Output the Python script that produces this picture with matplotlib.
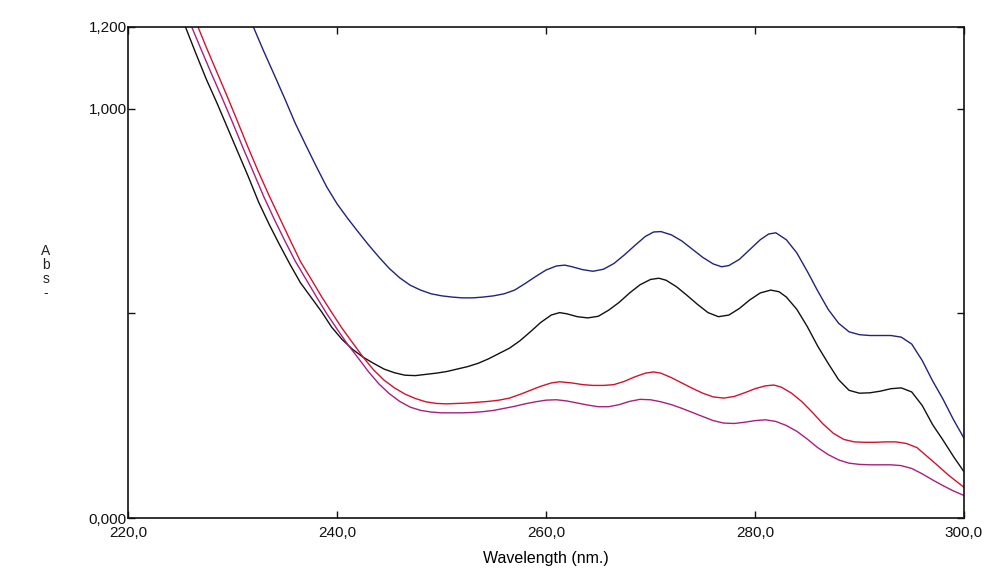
import numpy as np
import matplotlib
matplotlib.use("Agg")
from matplotlib import pyplot as plt

# spectra (wavelength nm, absorbance)
wl_blue = [232.0, 233.0, 234.0, 235.0, 236.0, 237.0, 238.0, 239.0, 240.0, 241.0, 242.0,
           243.0, 244.0, 245.0, 246.0, 247.0, 248.0, 249.0, 250.0, 251.0, 252.0, 253.0,
           254.0, 255.0, 256.0, 257.0, 258.0, 259.0, 260.0, 261.0, 261.8, 262.5, 263.5,
           264.5, 265.5, 266.5, 267.5, 268.5, 269.5, 270.3, 271.0, 272.0, 273.0, 274.0,
           275.0, 276.0, 276.8, 277.5, 278.5, 279.5, 280.5, 281.3, 282.0, 283.0, 284.0,
           285.0, 286.0, 287.0, 288.0, 289.0, 290.0, 291.0, 292.0, 293.0, 294.0, 295.0,
           296.0, 297.0, 298.0, 299.0, 300.0]
abs_blue = [1.200, 1.140, 1.083, 1.025, 0.965, 0.912, 0.860, 0.810, 0.768, 0.733, 0.700,
            0.668, 0.638, 0.610, 0.587, 0.569, 0.557, 0.548, 0.543, 0.540, 0.538, 0.538,
            0.540, 0.543, 0.548, 0.557, 0.573, 0.590, 0.606, 0.616, 0.618, 0.614, 0.607,
            0.603, 0.608, 0.622, 0.643, 0.666, 0.688, 0.699, 0.700, 0.692, 0.677, 0.657,
            0.637, 0.621, 0.614, 0.617, 0.632, 0.656, 0.680, 0.694, 0.697, 0.680, 0.648,
            0.603, 0.555, 0.510, 0.476, 0.455, 0.448, 0.446, 0.446, 0.446, 0.442, 0.425,
            0.385, 0.335, 0.290, 0.240, 0.195]

wl_black = [225.5, 226.5, 227.5, 228.5, 229.5, 230.5, 231.5, 232.5, 233.5, 234.5, 235.5,
            236.5, 237.5, 238.5, 239.5, 240.5, 241.5, 242.5, 243.5, 244.5, 245.5, 246.5,
            247.5, 248.5, 249.5, 250.5, 251.5, 252.5, 253.5, 254.5, 255.5, 256.5, 257.5,
            258.5, 259.5, 260.5, 261.3, 262.0, 263.0, 264.0, 265.0, 266.0, 267.0, 268.0,
            269.0, 270.0, 270.8, 271.5, 272.5, 273.5, 274.5, 275.5, 276.5, 277.5, 278.5,
            279.5, 280.5, 281.5, 282.3, 283.0, 284.0, 285.0, 286.0, 287.0, 288.0, 289.0,
            290.0, 291.0, 292.0, 293.0, 294.0, 295.0, 296.0, 297.0, 298.0, 299.0, 300.0]
abs_black = [1.200, 1.135, 1.072, 1.015, 0.955, 0.895, 0.835, 0.772, 0.718, 0.668, 0.620,
             0.575, 0.540, 0.505, 0.466, 0.436, 0.412, 0.393, 0.378, 0.364, 0.355, 0.349,
             0.348, 0.351, 0.354, 0.358, 0.364, 0.370, 0.378, 0.389, 0.402, 0.415, 0.433,
             0.455, 0.478, 0.496, 0.502, 0.499, 0.492, 0.489, 0.493, 0.508, 0.527, 0.550,
             0.570, 0.583, 0.586, 0.581, 0.565, 0.544, 0.522, 0.502, 0.492, 0.496, 0.512,
             0.533, 0.550, 0.557, 0.553, 0.540, 0.510, 0.468, 0.420, 0.378, 0.338, 0.312,
             0.305, 0.306, 0.310, 0.316, 0.318, 0.308, 0.275, 0.228, 0.190, 0.150, 0.113]

wl_red = [226.7, 227.5, 228.5, 229.5, 230.5, 231.5, 232.5, 233.5, 234.5, 235.5, 236.5,
          237.5, 238.5, 239.5, 240.5, 241.5, 242.5, 243.5, 244.5, 245.5, 246.5, 247.5,
          248.5, 249.5, 250.5, 251.5, 252.5, 253.5, 254.5, 255.5, 256.5, 257.5, 258.5,
          259.5, 260.5, 261.3, 262.5, 263.5, 264.5, 265.5, 266.5, 267.5, 268.5, 269.5,
          270.3, 271.0, 272.0, 273.0, 274.0, 275.0, 276.0, 277.0, 278.0, 279.0, 280.0,
          281.0, 281.8, 282.5, 283.5, 284.5, 285.5, 286.5, 287.5, 288.5, 289.5, 290.5,
          291.5, 292.5, 293.5, 294.5, 295.5, 296.5, 297.5, 298.5, 299.5, 300.0]
abs_red = [1.200, 1.150, 1.090, 1.030, 0.968, 0.905, 0.845, 0.788, 0.734, 0.680, 0.627,
           0.585, 0.542, 0.502, 0.463, 0.428, 0.393, 0.362, 0.337, 0.318, 0.303, 0.292,
           0.284, 0.280, 0.279, 0.280, 0.281, 0.283, 0.285, 0.288, 0.293, 0.302, 0.312,
           0.322, 0.330, 0.333, 0.330, 0.326, 0.324, 0.324, 0.326, 0.334, 0.345, 0.354,
           0.357, 0.354, 0.343, 0.330, 0.317, 0.305, 0.296, 0.293, 0.297, 0.306, 0.316,
           0.323, 0.325, 0.320, 0.305, 0.284, 0.258, 0.230, 0.207, 0.192, 0.186, 0.185,
           0.185, 0.186, 0.186, 0.182, 0.172, 0.150, 0.128, 0.105, 0.085, 0.075]

wl_mag = [226.1, 227.0, 228.0, 229.0, 230.0, 231.0, 232.0, 233.0, 234.0, 235.0, 236.0,
          237.0, 238.0, 239.0, 240.0, 241.0, 242.0, 243.0, 244.0, 245.0, 246.0, 247.0,
          248.0, 249.0, 250.0, 251.0, 252.0, 253.0, 254.0, 255.0, 256.0, 257.0, 258.0,
          259.0, 260.0, 261.0, 262.0, 263.0, 264.0, 265.0, 266.0, 267.0, 268.0, 269.0,
          270.0, 271.0, 272.0, 273.0, 274.0, 275.0, 276.0, 277.0, 278.0, 279.0, 280.0,
          281.0, 282.0, 283.0, 284.0, 285.0, 286.0, 287.0, 288.0, 289.0, 290.0, 291.0,
          292.0, 293.0, 294.0, 295.0, 296.0, 297.0, 298.0, 299.0, 300.0]
abs_mag = [1.200, 1.145, 1.085, 1.027, 0.967, 0.905, 0.845, 0.785, 0.730, 0.678, 0.628,
           0.585, 0.542, 0.500, 0.462, 0.425, 0.392, 0.358, 0.328, 0.304, 0.285, 0.271,
           0.263, 0.259, 0.257, 0.257, 0.257, 0.258, 0.260, 0.263, 0.268, 0.273, 0.279,
           0.284, 0.288, 0.289, 0.286, 0.281, 0.276, 0.272, 0.272, 0.277, 0.285, 0.290,
           0.289, 0.284, 0.277, 0.268, 0.258, 0.248, 0.238, 0.232, 0.231, 0.234, 0.238,
           0.240, 0.236, 0.226, 0.212, 0.193, 0.172, 0.155, 0.142, 0.134, 0.131, 0.130,
           0.130, 0.130, 0.128, 0.121, 0.108, 0.093, 0.079, 0.066, 0.055]

xticks = [220, 240, 260, 280, 300]
xlabels = ["220,0", "240,0", "260,0", "280,0", "300,0"]
yticks = [0.0, 0.5, 1.0, 1.2]
ylabels = ["0,000", "", "1,000", "1,200"]

plt.rcParams['font.family'] = ['Liberation Sans', 'DejaVu Sans']

fig = plt.figure(figsize=(9.84, 5.68), dpi=100)
ax = fig.add_axes([128/984, 50/568, 836/984, 491/568])

ax.plot(wl_blue, abs_blue, color='#22237a', lw=1.0)
ax.plot(wl_black, abs_black, color='#111111', lw=1.0)
ax.plot(wl_red, abs_red, color='#d0142e', lw=1.0)
ax.plot(wl_mag, abs_mag, color='#a8207e', lw=1.0)

ax.set_xlim(220, 300)
ax.set_ylim(0, 1.2)
ax.set_xticks(xticks)
ax.set_xticklabels(xlabels)
ax.set_yticks(yticks)
ax.set_yticklabels(ylabels)
ax.tick_params(direction='in', length=5, width=1, top=True, right=True,
               labelsize=11, colors='#111111')
ax.tick_params(axis='x', pad=6)
ax.tick_params(axis='y', pad=1)
for s in ax.spines.values():
    s.set_linewidth(1.2)
    s.set_color('#111111')

ax.set_xlabel("Wavelength (nm.)", fontsize=11.5, labelpad=8)
fig.text(46/984, 1 - 272/568, "A\nb\ns\n-", fontsize=10, ha='center', va='center',
         linespacing=1.0, color='#222222')

fig.savefig("out.png", dpi=100)
